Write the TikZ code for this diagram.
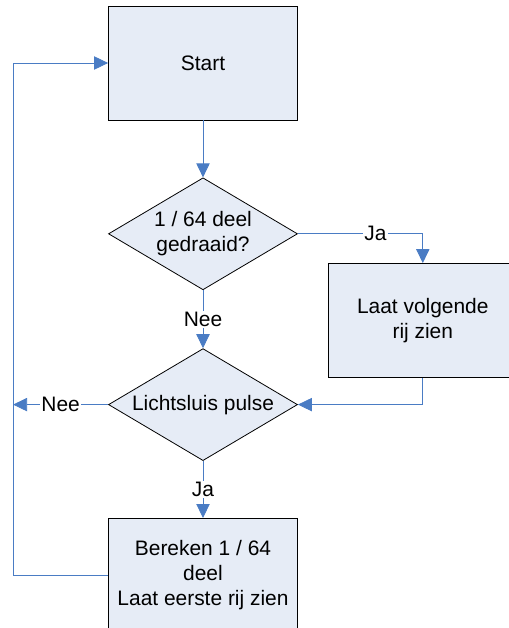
\documentclass[tikz,border=0pt]{standalone}
\usepackage{xcolor}
\usepackage{fontspec}
\setmainfont{Liberation Sans}
\usepackage{tikz}
\usetikzlibrary{shapes,arrows.meta,positioning}
\definecolor{flowblue}{RGB}{74,124,196}
\definecolor{lightfill}{RGB}{230,236,246}

\begin{document}
\begin{tikzpicture}[
    x=0.75pt, y=-0.75pt,
    node distance=42.75pt,
    font=\fontsize{15.7}{18.75}\selectfont,
    block/.style={rectangle, draw=black, fill=lightfill, line width=0.6pt, align=center, minimum width=141.75pt, minimum height=85.5pt, inner sep=0pt},
    decision/.style={diamond, draw=black, fill=lightfill, line width=0.6pt, aspect=1.69, align=center, minimum width=141.75pt, minimum height=84pt, inner sep=0pt},
    arrow/.style={-{Triangle[length=10.5pt,width=10pt]}, flowblue, line width=0.6pt},
    tag/.style={fill=white, text=black, inner sep=1pt}
]
\useasboundingbox (0,0) rectangle (509,628);

% Main column
\node[block] (start) at (203,63) {Start};
\node[decision, below=of start] (turned) {1 / 64 deel\\gedraaid?};
\node[decision, below=43.5pt of turned] (pulse) {Lichtsluis pulse};
\node[block, below=of pulse] (calc) {Bereken 1 / 64\\deel\\Laat eerste rij zien};

% Side branch
\node[block, right=22.5pt of turned, yshift=-65pt] (nextrow) {Laat volgende\\rij zien};

% Return lane
\coordinate[left=71.25pt of start.west] (lane);
\coordinate (laneNee) at (lane |- pulse);

% Arrows
\draw[arrow] (start) -- (turned);
\draw[arrow] (turned) -| node[tag, pos=0.31] {Ja} (nextrow);
\draw[arrow] (turned) -- node[tag] {Nee} (pulse);
\draw[arrow] (nextrow) |- (pulse);
\draw[arrow] (pulse) -- node[tag] {Ja} (calc);
\draw[arrow] (pulse) -- node[tag] {Nee} (laneNee);
\draw[arrow] (calc) -| (lane) -- (start);

\end{tikzpicture}
\end{document}
